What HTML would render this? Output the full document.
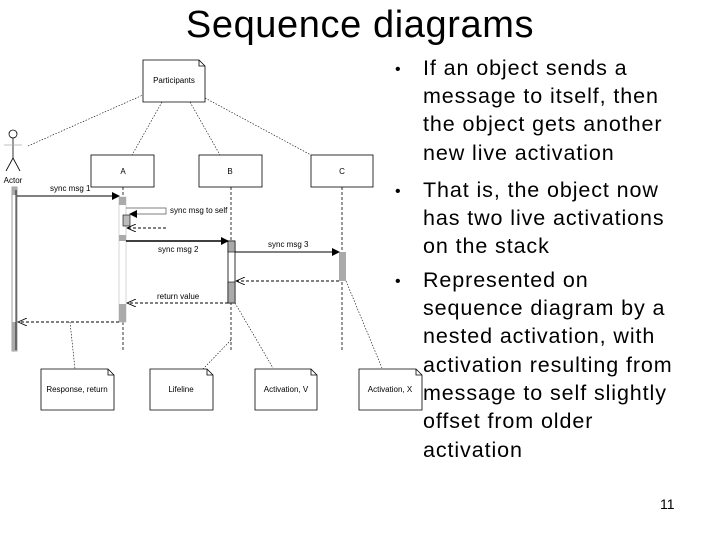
<!DOCTYPE html>
<html><head><meta charset="utf-8"><style>
html,body{margin:0;padding:0;background:#fff;}
svg{display:block;}
</style></head><body>
<svg width="720" height="540" viewBox="0 0 720 540" xmlns="http://www.w3.org/2000/svg" font-family="Liberation Sans, Arial, sans-serif">
<defs>
<marker id="fa" markerWidth="8" markerHeight="8" refX="7" refY="4" orient="auto" markerUnits="userSpaceOnUse"><path d="M0,0 L8,4 L0,8 Z" fill="#000"/></marker>
<marker id="oa" markerWidth="10" markerHeight="8" refX="9" refY="4" orient="auto" markerUnits="userSpaceOnUse"><path d="M0,0 L9,4 L0,8" fill="none" stroke="#000" stroke-width="0.8"/></marker>
</defs>
<rect width="720" height="540" fill="#fff"/>
<text x="360" y="37" font-size="38" letter-spacing="0.6" text-anchor="middle">Sequence diagrams</text>

<!-- participants note -->
<g stroke="#000" stroke-width="0.8" fill="#fff">
<path d="M143,60 H199 L205,66 V102 H143 Z"/>
<path d="M199,60 V66 H205" fill="none"/>
</g>
<text x="174" y="83" font-size="8" text-anchor="middle">Participants</text>
<g stroke="#000" stroke-width="0.6" stroke-dasharray="1.5,1.5" fill="none">
<line x1="28" y1="146" x2="143" y2="95"/>
<line x1="162" y1="102" x2="132" y2="155"/>
<line x1="190" y1="102" x2="220" y2="155"/>
<line x1="205" y1="98" x2="311" y2="155"/>
</g>

<!-- actor -->
<g stroke="#000" stroke-width="0.8" fill="none">
<circle cx="13" cy="134" r="4" fill="#fff"/>
<line x1="13" y1="138" x2="13" y2="158"/>
<line x1="4" y1="145" x2="22" y2="145" stroke="#aaa"/>
<line x1="13" y1="158" x2="6" y2="171"/>
<line x1="13" y1="158" x2="20" y2="171"/>
</g>
<text x="13" y="183" font-size="8" text-anchor="middle">Actor</text>

<!-- boxes -->
<g stroke="#000" stroke-width="0.8" fill="#fff">
<rect x="91" y="155" width="63" height="32"/>
<rect x="199" y="155" width="63" height="32"/>
<rect x="311" y="155" width="62" height="32"/>
</g>
<g font-size="8" text-anchor="middle">
<text x="123" y="174">A</text><text x="230" y="174">B</text><text x="342" y="174">C</text>
</g>

<!-- lifelines -->
<g stroke="#000" stroke-width="0.8" stroke-dasharray="3,2">
<line x1="123" y1="187" x2="123" y2="350"/>
<line x1="231" y1="187" x2="231" y2="350"/>
<line x1="342" y1="187" x2="342" y2="350"/>
</g>

<!-- activations -->
<rect x="12" y="187" width="5" height="164" fill="#fff" stroke="#888" stroke-width="0.8"/>
<rect x="12" y="187" width="5" height="8" fill="#aaa"/>
<rect x="12" y="322" width="5" height="29" fill="#aaa"/>
<line x1="16" y1="190" x2="16" y2="350" stroke="#000" stroke-width="0.8"/>

<rect x="119" y="197" width="7" height="125" fill="#fff" stroke="#ccc" stroke-width="0.8"/>
<rect x="119" y="197" width="7" height="8" fill="#aaa"/>
<rect x="119" y="235" width="7" height="6" fill="#aaa"/>
<rect x="119" y="304" width="7" height="18" fill="#aaa"/>
<rect x="123" y="215" width="7" height="11" fill="#bbb" stroke="#000" stroke-width="0.6"/>

<rect x="228" y="241" width="7" height="62" fill="#fff" stroke="#000" stroke-width="0.8"/>
<rect x="228" y="241" width="7" height="11" fill="#aaa" stroke="#000" stroke-width="0.6"/>
<rect x="228" y="282" width="7" height="21" fill="#aaa" stroke="#000" stroke-width="0.6"/>

<rect x="339" y="252" width="7" height="29" fill="#aaa"/>

<!-- messages -->
<g stroke="#000" stroke-width="0.9" fill="none">
<line x1="17" y1="196" x2="119" y2="196" marker-end="url(#fa)"/>
<polyline points="126,208 166,208 166,214 130,214" stroke="#555" stroke-width="0.7" marker-end="url(#fa)"/>
<line x1="166" y1="228" x2="127" y2="228" stroke-dasharray="3,2" marker-end="url(#oa)"/>
<line x1="126" y1="241" x2="228" y2="241" stroke-width="1.4" marker-end="url(#fa)"/>
<line x1="235" y1="252" x2="339" y2="252" stroke-width="1.1" marker-end="url(#fa)"/>
<line x1="339" y1="281" x2="236" y2="281" stroke-dasharray="3,2" marker-end="url(#oa)"/>
<line x1="228" y1="303" x2="127" y2="303" stroke-dasharray="3,2" marker-end="url(#oa)"/>
<line x1="119" y1="322" x2="18" y2="322" stroke-dasharray="3,2" marker-end="url(#oa)"/>
</g>
<g font-size="8">
<text x="50" y="191">sync msg 1</text>
<text x="170" y="213">sync msg to self</text>
<text x="158" y="252">sync msg 2</text>
<text x="268" y="247">sync msg 3</text>
<text x="157" y="299">return value</text>
</g>

<!-- notes -->
<g stroke="#000" stroke-width="0.6" stroke-dasharray="1.5,1.5" fill="none">
<line x1="70" y1="322" x2="75" y2="369"/>
<line x1="231" y1="340" x2="203" y2="369"/>
<line x1="235" y1="303" x2="273" y2="368"/>
<line x1="346" y1="281" x2="382" y2="368"/>
</g>
<g stroke="#000" stroke-width="0.8" fill="#fff">
<path d="M41,369 H108 L114,375 V410 H41 Z"/><path d="M108,369 V375 H114" fill="none"/>
<path d="M150,369 H207 L213,375 V410 H150 Z"/><path d="M207,369 V375 H213" fill="none"/>
<path d="M255,369 H311 L317,375 V410 H255 Z"/><path d="M311,369 V375 H317" fill="none"/>
<path d="M359,369 H416 L422,375 V410 H359 Z"/><path d="M416,369 V375 H422" fill="none"/>
</g>
<g font-size="8" text-anchor="middle">
<text x="77" y="392">Response, return</text>
<text x="181" y="392">Lifeline</text>
<text x="286" y="392">Activation, V</text>
<text x="390" y="392">Activation, X</text>
</g>

<!-- bullets -->
<g font-size="16">
<text x="395" y="74">•</text>
<text x="395" y="196">•</text>
<text x="395" y="286">•</text>
</g>
<g font-size="21.5" letter-spacing="0.9" fill="#000">
<text x="423" y="75">If an object sends a</text>
<text x="423" y="103">message to itself, then</text>
<text x="423" y="131">the object gets another</text>
<text x="423" y="160">new live activation</text>
<text x="423" y="197">That is, the object now</text>
<text x="423" y="225">has two live activations</text>
<text x="423" y="253">on the stack</text>
<text x="423" y="287">Represented on</text>
<text x="423" y="315">sequence diagram by a</text>
<text x="423" y="343">nested activation, with</text>
<text x="423" y="372">activation resulting from</text>
<text x="423" y="400">message to self slightly</text>
<text x="423" y="428">offset from older</text>
<text x="423" y="457">activation</text>
</g>
<text x="660" y="509" font-size="14">11</text>
</svg>
</body></html>
